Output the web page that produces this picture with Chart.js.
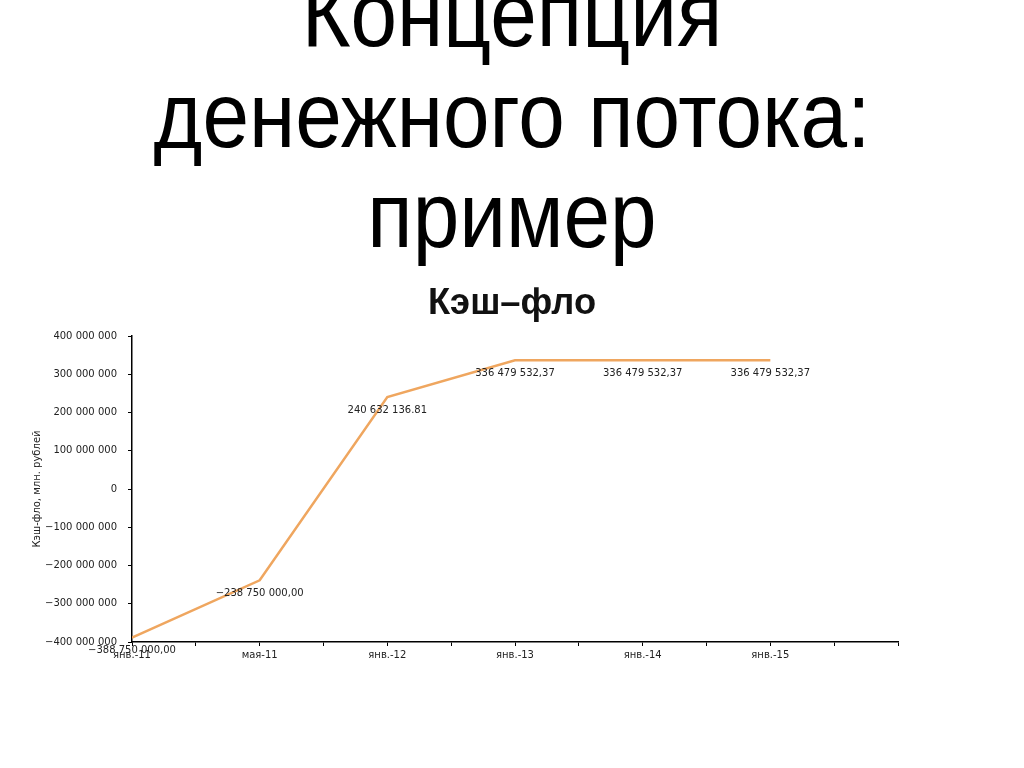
<!DOCTYPE html>
<html>
<head>
<meta charset="utf-8">
<script src="https://cdn.jsdelivr.net/npm/chart.js@4/dist/chart.umd.min.js"></script>
<style>
  html, body { margin: 0; padding: 0; background: #fff; overflow: hidden; }
  #wrap { position: relative; width: 1024px; height: 768px; }
  #cash { position: absolute; left: 0; top: 0; }
  #heading {
    position: absolute; left: 0; top: -36px; width: 1024px;
    font-family: 'Liberation Sans', Arial, sans-serif; font-size: 92px;
    line-height: 100.5px; text-align: center; color: #000;
    transform: scaleX(0.91); transform-origin: 512px 0;
  }
  #chartTitle {
    position: absolute; left: 0; top: 280px; width: 1024px;
    font-family: 'Liberation Sans', Arial, sans-serif; font-weight: bold;
    font-size: 37px; line-height: 44px; text-align: center; color: #111;
    transform: scaleX(0.98); transform-origin: 514px 0;
  }
</style>
</head>
<body>
<div id="wrap">
  <canvas id="cash" width="1024" height="768"></canvas>
  <div id="heading">Концепция<br>денежного потока:<br>пример</div>
  <div id="chartTitle">Кэш–фло</div>
</div>
<script>
// periods on the x axis
let categories = ['янв.-11', 'мая-11', 'янв.-12', 'янв.-13', 'янв.-14', 'янв.-15'];
// cash flow, rubles
let values = [-388750000, -238750000, 240632136.81, 336479532.37, 336479532.37, 336479532.37];
// labels printed under the points, as on the slide
let valueLabels = ['−388 750 000,00', '−238 750 000,00', '240 632 136.81', '336 479 532,37', '336 479 532,37', '336 479 532,37'];

let smallFont = { family: 'DejaVu Sans', size: 10 };

let fmt = v => {
    let s = Math.abs(v).toString().replace(/\B(?=(\d{3})+(?!\d))/g, ' ');
    return v < 0 ? '−' + s : s;
};

// draws the value under each point
let pointLabels = {
    id: 'pointLabels',
    afterDatasetsDraw(chart) {
        let ctx = chart.ctx;
        let meta = chart.getDatasetMeta(0);
        ctx.save();
        ctx.font = '10px "DejaVu Sans"';
        ctx.fillStyle = '#222';
        ctx.textAlign = 'center';
        ctx.textBaseline = 'middle';
        meta.data.forEach((p, i) => {
            ctx.fillText(valueLabels[i], p.x, p.y + 13);
        });
        ctx.restore();
    }
};

let renderChart = () => {
    let el = document.getElementById('cash');
    new Chart(el, {
        type: 'line',
        data: {
            datasets: [
                {
                    label: 'Кэш-фло',
                    data: categories.map((c, i) => ({ x: i, y: values[i] })),
                    borderColor: '#EFA65F',
                    borderWidth: 2.5,
                    pointRadius: 0,
                    tension: 0,
                },
            ],
        },
        options: {
            responsive: false,
            animation: false,
            layout: { padding: { left: 0, right: 126, top: 336, bottom: 96 } },
            plugins: {
                legend: { display: false },
                tooltip: { enabled: false },
                title: { display: false },
            },
            scales: {
                x: {
                    type: 'linear',
                    min: 0,
                    max: 6,
                    afterFit: s => { s.height = 30; },
                    border: { color: '#000', width: 1.5 },
                    grid: { drawOnChartArea: false, tickLength: 4, color: '#000' },
                    ticks: {
                        stepSize: 0.5,
                        autoSkip: false,
                        maxRotation: 0,
                        padding: 3,
                        color: '#222',
                        font: smallFont,
                        callback: v => (Number.isInteger(v) && categories[v]) ? categories[v] : '',
                    },
                },
                y: {
                    min: -400000000,
                    max: 400000000,
                    afterFit: s => { s.width = 132; },
                    border: { color: '#000', width: 1.5 },
                    grid: { drawOnChartArea: false, tickLength: 4, color: '#000' },
                    ticks: {
                        stepSize: 100000000,
                        padding: 11,
                        color: '#222',
                        font: smallFont,
                        callback: v => fmt(v),
                    },
                    title: {
                        display: true,
                        text: 'Кэш-фло, млн. рублей',
                        color: '#222',
                        font: { family: 'DejaVu Sans', size: 10, lineHeight: 1.2 },
                        padding: { top: 31, bottom: 0 },
                    },
                },
            },
        },
        plugins: [pointLabels],
    });
};

renderChart();
</script>
</body>
</html>
